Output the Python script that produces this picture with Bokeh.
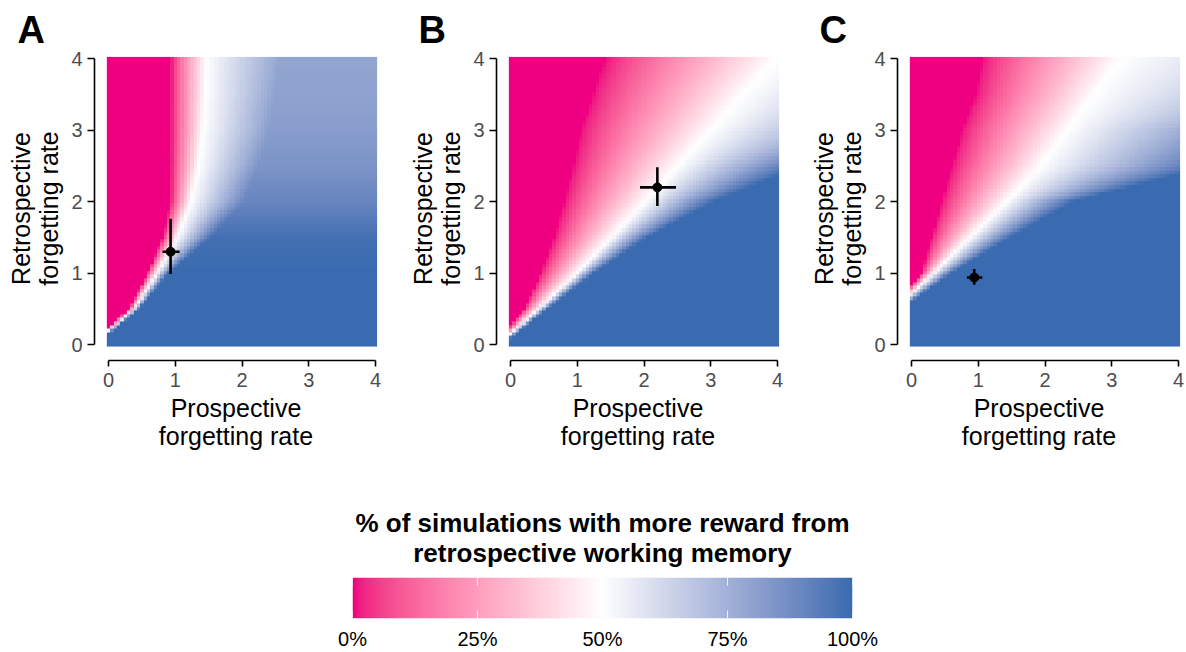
import numpy as np
from bokeh.plotting import figure
from bokeh.models import LinearColorMapper, FixedTicker, LinearAxis, Title
from bokeh.layouts import row, column
from bokeh.embed import file_html
from bokeh.resources import INLINE

FONT = "Liberation Sans"

# ---- data -----------------------------------------------------------------
panel_labels = ["A", "B", "C"]
# retrospective-rate levels at which the shape of each map was read
y_levels = [0.0, 0.5, 1.0, 1.5, 2.0, 2.5, 3.0, 3.5, 4.0]

# prospective rate at which the map equals 50 % (white line), per y level
a_boundary = [-0.25, 0.38, 0.73, 1.03, 1.23, 1.35, 1.42, 1.45, 1.46]
b_boundary = [-0.18, 0.42, 1.00, 1.52, 2.02, 2.50, 3.00, 3.48, 3.98]
c_boundary = [-0.85, -0.26, 0.33, 0.88, 1.43, 1.93, 2.33, 2.73, 3.13]

# distance (rate units) from the white line to full pink, per y level
a_pink_width = [0.05, 0.07, 0.15, 0.22, 0.30, 0.42, 0.49, 0.52, 0.53]
b_pink_width = [0.05, 0.22, 0.55, 0.87, 1.22, 1.57, 1.95, 2.26, 2.58]
c_pink_width = [0.05, 0.05, 0.18, 0.58, 0.98, 1.33, 1.58, 1.78, 2.08]

# distance from the white line to the blue plateau, per y level
a_blue_width = [0.05, 0.08, 0.17, 0.50, 0.80, 0.90, 1.00, 1.05, 1.10]
b_blue_width = [0.05, 0.13, 0.25, 0.53, 1.03, 1.90, 3.30, 5.00, 8.00]
c_blue_width = [0.05, 0.10, 0.27, 0.60, 1.00, 2.60, 3.30, 5.50, 7.50]

# % reached on the blue side, per y level
a_plateau = [100, 100, 100, 98, 90, 85, 82, 80, 79]
b_plateau = [100, 100, 100, 100, 100, 100, 100, 100, 100]
c_plateau = [100, 100, 100, 100, 100, 100, 100, 100, 100]

# fitted parameters with error bars
point_x = [0.93, 2.20, 0.94]
point_y = [1.30, 2.20, 0.94]
x_err_lo = [0.81, 1.94, 0.83]
x_err_hi = [1.065, 2.48, 1.06]
y_err_lo = [0.99, 1.94, 0.84]
y_err_hi = [1.76, 2.48, 1.06]

axis_ticks = [0, 1, 2, 3, 4]
x_title = ["Prospective", "forgetting rate"]
y_title = ["Retrospective", "forgetting rate"]
cb_ticks = [0, 25, 50, 75, 100]
cb_tick_labels = ["0%", "25%", "50%", "75%", "100%"]
cb_title = ["% of simulations with more reward from", "retrospective working memory"]

PINK = (238, 0, 128)
WHITE = (255, 255, 255)
BLUE = (58, 107, 176)

# ---- colour scale (Lab interpolation, as in a diverging gradient) ---------
M = np.array([[0.4124564, 0.3575761, 0.1804375],
              [0.2126729, 0.7151522, 0.0721750],
              [0.0193339, 0.1191920, 0.9503041]])
WN = np.array([0.95047, 1.0, 1.08883])


def to_lab(rgb):
    c = np.array(rgb, dtype=float) / 255.0
    lin = np.where(c <= 0.04045, c / 12.92, ((c + 0.055) / 1.055) ** 2.4)
    t = (M @ lin) / WN
    f = np.where(t > 216 / 24389, np.cbrt(t), (24389 / 27 * t + 16) / 116)
    return np.array([116 * f[1] - 16, 500 * (f[0] - f[1]), 200 * (f[1] - f[2])])


def to_hex(lab):
    L, a, b = lab
    fy = (L + 16) / 116
    f = np.array([fy + a / 500, fy, fy - b / 200])
    t = np.where(f ** 3 > 216 / 24389, f ** 3, (116 * f - 16) / (24389 / 27))
    lin = np.clip(np.linalg.inv(M) @ (t * WN), 0, 1)
    c = np.where(lin <= 0.0031308, 12.92 * lin, 1.055 * lin ** (1 / 2.4) - 0.055)
    r, g, bb = np.clip(np.round(c * 255), 0, 255).astype(int)
    return "#%02x%02x%02x" % (r, g, bb)


lp, lw, lb = to_lab(PINK), to_lab(WHITE), to_lab(BLUE)
palette = []
for i in range(256):
    t = i / 255
    if t < 0.5:
        s = t / 0.5
        palette.append(to_hex(lp + (lw - lp) * s))
    else:
        s = (t - 0.5) / 0.5
        palette.append(to_hex(lw + (lb - lw) * s))
mapper = LinearColorMapper(palette=palette, low=0, high=100)

# ---- maps ------------------------------------------------------------------
grid = np.arange(81) * 0.05


def make_map(boundary, pink_w, blue_w, plateau):
    xb = np.interp(grid, y_levels, boundary)[:, None]
    wp = np.interp(grid, y_levels, pink_w)[:, None]
    wb = np.interp(grid, y_levels, blue_w)[:, None]
    pl = np.interp(grid, y_levels, plateau)[:, None]
    d = grid[None, :] - xb
    pink = 50 * (1 - np.clip(-d / wp, 0, 1))
    blue = 50 + (pl - 50) * np.clip(d / wb, 0, 1)
    return np.where(d < 0, pink, blue)


maps = [
    make_map(a_boundary, a_pink_width, a_blue_width, a_plateau),
    make_map(b_boundary, b_pink_width, b_blue_width, b_plateau),
    make_map(c_boundary, c_pink_width, c_blue_width, c_plateau),
]


def style_title_axis(ax, standoff):
    ax.ticker = FixedTicker(ticks=[])
    ax.axis_line_color = None
    ax.major_tick_line_color = None
    ax.minor_tick_line_color = None
    ax.major_tick_in = 0
    ax.major_tick_out = 0
    ax.major_label_standoff = 0
    ax.axis_label_standoff = standoff
    ax.axis_label_text_font = FONT
    ax.axis_label_text_font_size = "25px"
    ax.axis_label_text_font_style = "normal"
    ax.axis_label_text_color = "black"


borders = [(94, 24), (95, 23), (95, 6)]
panels = []
for i in range(3):
    bl, br = borders[i]
    p = figure(frame_width=283, frame_height=304,
               min_border_left=bl, min_border_right=br,
               min_border_top=56, min_border_bottom=100,
               x_range=(-0.21, 4.03), y_range=(-0.22, 4.03),
               output_backend="svg", toolbar_location=None,
               background_fill_color="white", border_fill_color="white")
    p.outline_line_color = None
    p.grid.visible = False
    p.image(image=[maps[i]], x=-0.025, y=-0.025, dw=4.05, dh=4.05,
            color_mapper=mapper, level="image")
    p.segment(x0=[x_err_lo[i], point_x[i]], y0=[point_y[i], y_err_lo[i]],
              x1=[x_err_hi[i], point_x[i]], y1=[point_y[i], y_err_hi[i]],
              line_color="black", line_width=2.6)
    p.scatter(x=[point_x[i]], y=[point_y[i]], size=9, color="black")

    for ax in (p.xaxis[0], p.yaxis[0]):
        ax.ticker = FixedTicker(ticks=axis_ticks)
        ax.bounds = (0, 4)
        ax.axis_line_width = 1.6
        ax.axis_line_color = "black"
        ax.major_tick_line_width = 1.6
        ax.major_tick_line_color = "black"
        ax.major_tick_in = 0
        ax.minor_tick_line_color = None
        ax.major_label_text_font = FONT
        ax.major_label_text_font_size = "20px"
        ax.major_label_text_color = "#4d4d4d"
        ax.axis_label_text_font = FONT
        ax.axis_label_text_font_size = "25px"
        ax.axis_label_text_font_style = "normal"
        ax.axis_label_text_color = "black"
    p.xaxis.major_tick_out = 6
    p.xaxis.major_label_standoff = 6
    p.xaxis.axis_label_standoff = 4
    p.xaxis.axis_label = x_title[0]
    p.yaxis.major_tick_out = 7
    p.yaxis.major_label_standoff = 5
    p.yaxis.axis_label_standoff = 5
    p.yaxis.axis_label = y_title[1]
    p.yaxis.major_label_orientation = "horizontal"

    x2 = LinearAxis(axis_label=x_title[1])
    style_title_axis(x2, -3)
    p.add_layout(x2, "below")
    y2 = LinearAxis(axis_label=y_title[0])
    style_title_axis(y2, -2)
    p.add_layout(y2, "left")

    p.title.text = panel_labels[i]
    p.title.text_font = FONT
    p.title.text_font_size = "38px"
    p.title.text_font_style = "bold"
    p.title.text_color = "black"
    p.title.align = "left"
    p.title.offset = -(bl - 17)
    p.title.standoff = 12
    panels.append(p)

# ---- colour bar ------------------------------------------------------------
cb = figure(frame_width=500, frame_height=41,
            min_border_left=352, min_border_right=334,
            min_border_top=117, min_border_bottom=34,
            x_range=(0, 100), y_range=(0, 1), y_axis_location=None,
            output_backend="svg", toolbar_location=None)
cb.outline_line_color = None
cb.grid.visible = False
cb.image(image=[np.linspace(0, 100, 501)[None, :]], x=0, y=0, dw=100, dh=1,
         color_mapper=mapper, level="image")
cb.segment(x0=cb_ticks, y0=[0] * 5, x1=cb_ticks, y1=[0.2] * 5,
           line_color="white", line_width=1, line_alpha=0.8)
cb.segment(x0=cb_ticks, y0=[0.8] * 5, x1=cb_ticks, y1=[1] * 5,
           line_color="white", line_width=1, line_alpha=0.8)
xa = cb.xaxis[0]
xa.ticker = FixedTicker(ticks=cb_ticks)
xa.major_label_overrides = {t: l for t, l in zip(cb_ticks, cb_tick_labels)}
xa.axis_line_color = None
xa.major_tick_line_color = None
xa.major_tick_out = 0
xa.major_tick_in = 0
xa.minor_tick_line_color = None
xa.major_label_standoff = 9
xa.major_label_text_font = FONT
xa.major_label_text_font_size = "20px"
xa.major_label_text_color = "black"

# the plot's own title sits farthest out; the added one sits next to the bar
cb.title.text = cb_title[0]
cb.title.align = "center"
cb.title.text_font = FONT
cb.title.text_font_size = "26px"
cb.title.text_font_style = "bold"
cb.title.text_color = "black"
cb.title.standoff = -24
cb.add_layout(Title(text=cb_title[1], align="center", text_font=FONT,
                    text_font_size="26px", text_font_style="bold",
                    text_color="black", standoff=20), "above")

layout = column(row(*panels), cb)
open("out.html", "w").write(file_html(layout, INLINE))
